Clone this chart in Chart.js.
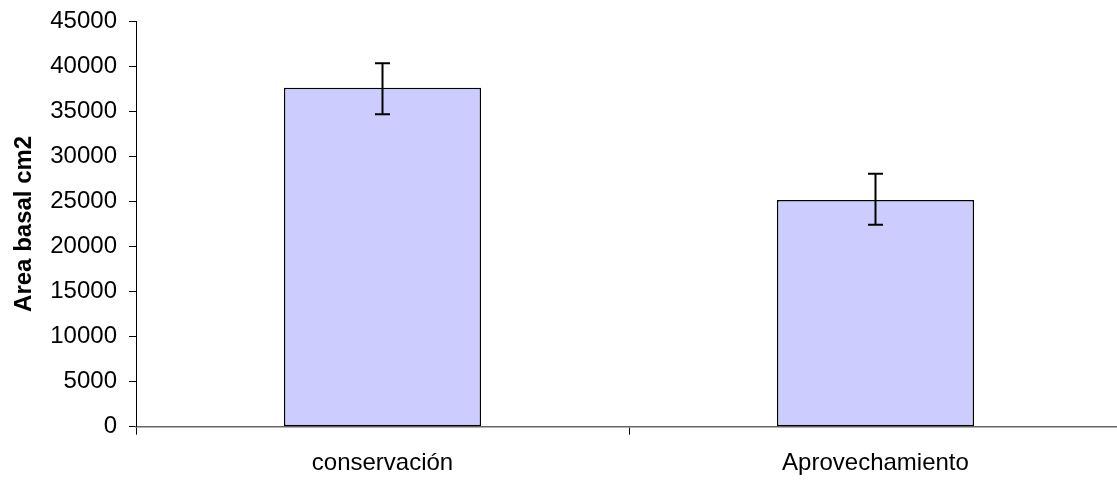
<!DOCTYPE html>
<html>
<head>
<meta charset="utf-8">
<script src="https://cdn.jsdelivr.net/npm/chart.js@4/dist/chart.umd.min.js"></script>
<style>
  html, body { margin: 0; padding: 0; background: #fff; overflow: hidden; }
  #wrap { width: 1123px; height: 482px; position: relative; }
</style>
</head>
<body>
<div id="wrap"><canvas id="c"></canvas></div>
<script>
const categories = ['conservación', 'Aprovechamiento'];
const values = [37600, 25150];
const errUpper = [40300, 28050];
const errLower = [34650, 22400];
const yTicks = [0, 5000, 10000, 15000, 20000, 25000, 30000, 35000, 40000, 45000];
const yTitle = 'Area basal cm2';

const FONT = "'Liberation Sans', Arial, sans-serif";

const errorBarPlugin = {
  id: 'errorBars',
  afterDatasetsDraw(chart) {
    const ctx = chart.ctx;
    const meta = chart.getDatasetMeta(0);
    const y = chart.scales.y;
    ctx.save();
    ctx.strokeStyle = '#000';
    ctx.lineWidth = 2;
    meta.data.forEach((bar, i) => {
      const x = bar.x;
      const yt = y.getPixelForValue(errUpper[i]);
      const yb = y.getPixelForValue(errLower[i]);
      const cap = 7.5;
      ctx.beginPath();
      ctx.moveTo(x, yt); ctx.lineTo(x, yb);
      ctx.moveTo(x - cap, yt); ctx.lineTo(x + cap, yt);
      ctx.moveTo(x - cap, yb); ctx.lineTo(x + cap, yb);
      ctx.stroke();
    });
    ctx.restore();
  }
};

new Chart(document.getElementById('c'), {
  type: 'bar',
  data: {
    labels: categories,
    datasets: [{
      data: values,
      backgroundColor: '#CCCCFF',
      borderColor: '#000',
      borderWidth: 1.5,
      borderSkipped: false,
      categoryPercentage: 1.0,
      barPercentage: 0.4
    }]
  },
  options: {
    responsive: true,
    maintainAspectRatio: false,
    animation: false,
    layout: { padding: { top: 21, right: 1, left: 0, bottom: 0 } },
    plugins: { legend: { display: false }, tooltip: { enabled: false } },
    scales: {
      x: {
        offset: true,
        afterFit(s) { s.height = 55.3; s.paddingLeft = 0; s.paddingRight = 0; },
        border: { display: true, color: '#666', width: 1.5 },
        grid: { display: true, drawOnChartArea: false, drawTicks: true, tickLength: 8, color: '#000', offset: true },
        ticks: { color: '#000', font: { family: FONT, size: 24 }, padding: 14, maxRotation: 0 }
      },
      y: {
        min: 0, max: 45000,
        afterFit(s) { s.width = 136; s.paddingTop = 0; s.paddingBottom = 0; },
        afterBuildTicks(s) { s.ticks = yTicks.map(v => ({ value: v })); },
        border: { display: true, color: '#000', width: 1 },
        grid: { display: true, drawOnChartArea: false, drawTicks: true, tickLength: 7, color: '#000' },
        ticks: { color: '#000', font: { family: FONT, size: 24 }, padding: 12, callback: v => String(v) },
        title: {
          display: true, text: yTitle, color: '#000',
          font: { family: FONT, size: 24, weight: 'bold', lineHeight: 1.2 },
          padding: { top: 10, bottom: 0 }
        }
      }
    }
  },
  plugins: [errorBarPlugin]
});
</script>
</body>
</html>
